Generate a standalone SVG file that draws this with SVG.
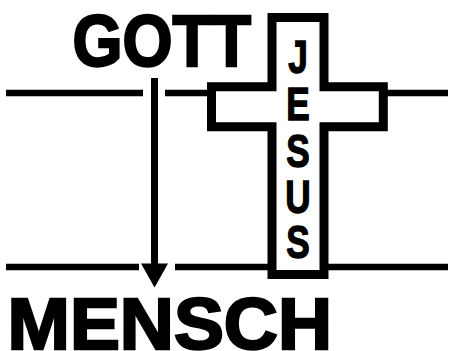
<svg xmlns="http://www.w3.org/2000/svg" width="450" height="351" viewBox="0 0 450 351">
<style>
.big{font-family:"Liberation Sans",Arial,sans-serif;font-weight:bold;fill:#000;stroke:#000;stroke-width:2.4}
.ltr{font-family:"Liberation Sans",Arial,sans-serif;font-weight:bold;font-size:40px;fill:#000;stroke:#000;stroke-width:1.2;text-anchor:middle}
.ln{stroke:#000;stroke-width:6.5;fill:none}
</style>
<rect width="450" height="351" fill="#fff"/>
<g id="connectors">
<line class="ln" x1="6" y1="93" x2="143" y2="93"/>
<line class="ln" x1="165" y1="93" x2="212" y2="93"/>
<line class="ln" x1="383" y1="93" x2="448" y2="93"/>
<line class="ln" x1="6" y1="267" x2="139" y2="267"/>
<line class="ln" x1="175" y1="267" x2="272" y2="267"/>
<line class="ln" x1="324" y1="267" x2="448" y2="267"/>
<line x1="154.5" y1="78" x2="154.5" y2="266" stroke="#000" stroke-width="7"/>
<polygon points="141,263.5 168,263.5 154.5,287.5" fill="#000"/>
</g>
<g id="gott">
<text class="big" x="72.5" y="65.5" font-size="73" textLength="178.5" lengthAdjust="spacingAndGlyphs">GOTT</text>
</g>
<g id="mensch">
<text class="big" x="7.5" y="349" font-size="72" textLength="324.5" lengthAdjust="spacingAndGlyphs">MENSCH</text>
</g>
<g id="jesus">
<polygon points="272,17.5 324,17.5 324,86.7 383.3,86.7 383.3,126.7 324,126.7 324,274.5 272,274.5 272,126.7 211.5,126.7 211.5,86.7 272,86.7" fill="#fff" stroke="#000" stroke-width="9"/>
<g transform="translate(298,0) scale(0.88,1.175)">
<text class="ltr"><tspan x="0" y="61.8">J</tspan><tspan x="0" y="101.8">E</tspan><tspan x="0" y="141.8">S</tspan><tspan x="0" y="181">U</tspan><tspan x="0" y="219.3">S</tspan></text>
</g>
</g>
</svg>
